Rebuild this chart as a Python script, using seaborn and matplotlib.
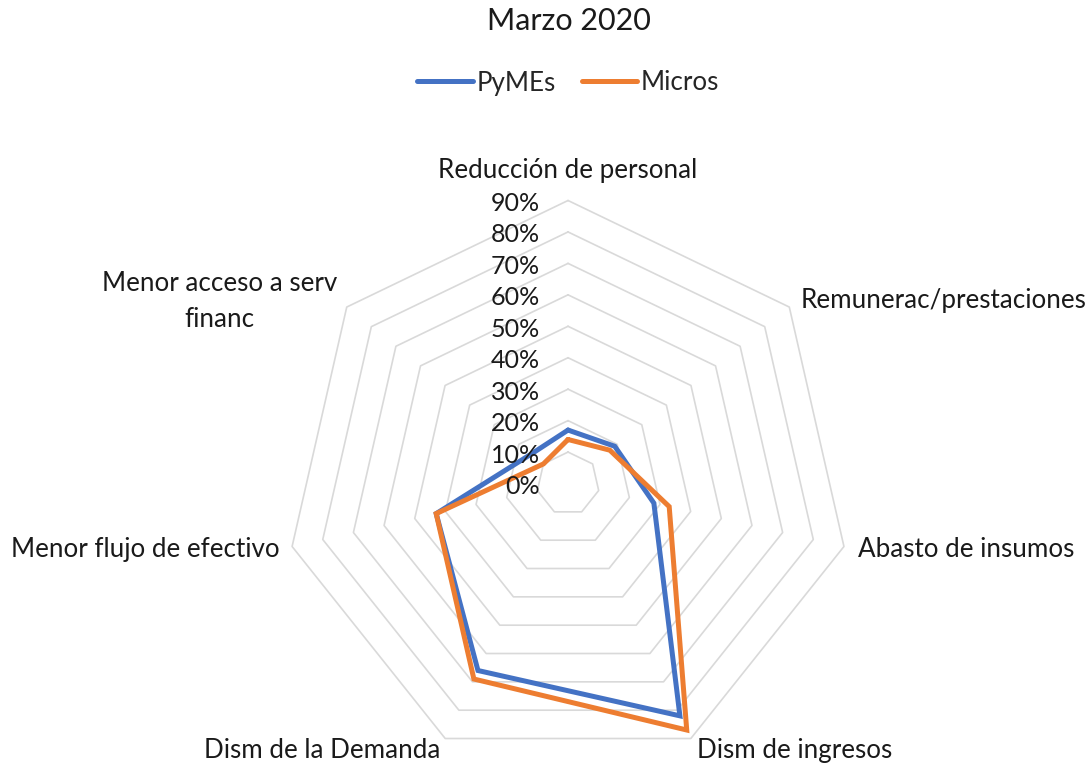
import numpy as np
import pandas as pd
import seaborn as sns
import matplotlib.pyplot as plt
from matplotlib.lines import Line2D

# Datos (porcentaje)
categories = ["Reducción de personal", "Remunerac/prestaciones", "Abasto de insumos",
              "Dism de ingresos", "Dism de la Demanda", "Menor flujo de efectivo",
              "Menor acceso a serv\nfinanc"]
pymes = [17, 19, 28, 82, 66, 43, 15]
micros = [14, 17, 33, 87, 69, 43, 10]
series_names = ["PyMEs", "Micros"]
tick_levels = [0, 10, 20, 30, 40, 50, 60, 70, 80, 90]
tick_labels = [f"{v}%" for v in tick_levels]

palette = {"PyMEs": "#4472C4", "Micros": "#ED7D31"}

sns.set_theme(style="white")
plt.rcParams["font.family"] = ["Lato", "DejaVu Sans"]

n = len(categories)
angles = np.linspace(0, 2 * np.pi, n, endpoint=False)
theta = np.append(angles, angles[0])

rows = []
for name, vals in zip(series_names, [pymes, micros]):
    closed = list(vals) + [vals[0]]
    for t, v in zip(theta, closed):
        rows.append({"theta": t, "value": v, "serie": name})
df = pd.DataFrame(rows)

fig = plt.figure(figsize=(10.89, 7.67), dpi=100)
ax = fig.add_axes([0.2617, 0.0006, 0.5198, 0.738], projection="polar")
ax.set_theta_zero_location("N")
ax.set_theta_direction(-1)

# anillos heptagonales
for lvl in tick_levels[1:]:
    ax.plot(theta, [lvl] * len(theta), color="#d9d9d9", lw=1.2, zorder=1, clip_on=False)

sns.lineplot(data=df, x="theta", y="value", hue="serie", palette=palette,
             sort=False, estimator=None, lw=3.6, ax=ax, legend=False,
             solid_joinstyle="miter", zorder=3)
for line in ax.lines:
    line.set_clip_on(False)

ax.set_ylim(0, 90)
ax.grid(False)
ax.spines["polar"].set_visible(False)
ax.set_xticks([])
ax.set_yticks([])
ax.set_xlabel("")
ax.set_ylabel("")
ax.set_facecolor("none")

fs_tick = 18
fs_cat = 18.7
for lvl, lab in zip(tick_levels, tick_labels):
    ax.annotate(lab, xy=(0, lvl), xytext=(-28, -3), textcoords="offset pixels",
                ha="right", va="center", fontsize=fs_tick, color="#1a1a1a")

label_offsets = [((0, 30), "center"), ((11, 7), "left"), ((14, -3), "left"),
                 ((6, -12), "left"), ((-5, -12), "right"), ((-12, -3), "right"),
                 ((-127, 6), "center")]
for ang, cat, (off, ha) in zip(angles, categories, label_offsets):
    ax.annotate(cat, xy=(ang, 90), xytext=off, textcoords="offset pixels",
                ha=ha, va="center", fontsize=fs_cat, color="#1a1a1a",
                multialignment="center", linespacing=1.55)

fig.text(0.522, 1 - 29.5 / 767, "Marzo 2020", ha="center", va="baseline",
         fontsize=22, color="#1a1a1a")

handles = [Line2D([0], [0], color=palette[s], lw=3.6, solid_capstyle="round") for s in series_names]
fig.legend(handles, series_names, loc="center", bbox_to_anchor=(0.522, 1 - 83 / 767),
           ncol=2, frameon=False, fontsize=fs_cat, handlelength=2.12, handletextpad=0.16,
           columnspacing=1.0)

fig.savefig("out.png", dpi=100)
